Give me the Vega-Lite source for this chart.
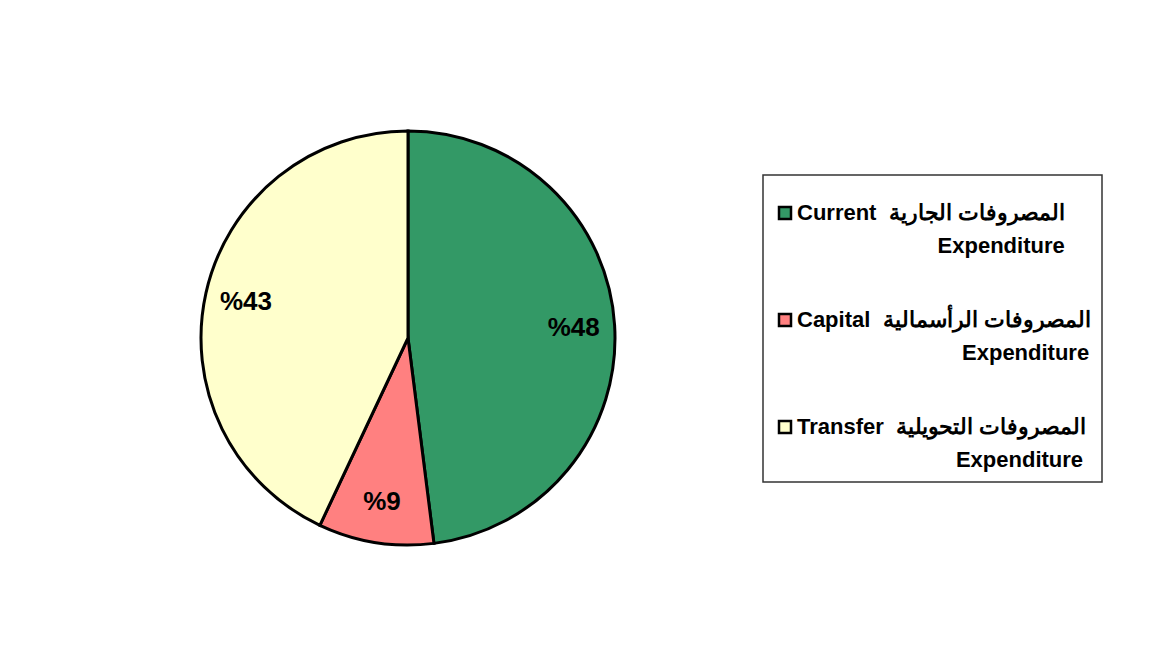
{
  "$schema": "https://vega.github.io/schema/vega-lite/v6.json",
  "width": 800,
  "height": 670,
  "padding": {"left": 8, "top": 3, "right": 0, "bottom": 0},
  "background": "white",
  "config": {"view": {"stroke": null}},
  "data": {
    "values": [
      {"category": "Current Expenditure", "share": 48, "label": "%48", "rank": 1},
      {"category": "Capital Expenditure", "share": 9, "label": "%9", "rank": 2},
      {"category": "Transfer Expenditure", "share": 43, "label": "%43", "rank": 3}
    ]
  },
  "encoding": {
    "theta": {"field": "share", "type": "quantitative", "stack": true},
    "order": {"field": "rank", "type": "ordinal"}
  },
  "layer": [
    {
      "mark": {"type": "arc", "outerRadius": 207, "stroke": "black", "strokeWidth": 3},
      "encoding": {
        "color": {
          "field": "category",
          "type": "nominal",
          "scale": {
            "domain": ["Current Expenditure", "Capital Expenditure", "Transfer Expenditure"],
            "range": ["#339966", "#FF8080", "#FFFFCC"]
          },
          "legend": {
            "title": "\u00a0",
            "titleFontSize": 12,
            "titlePadding": 4,
            "orient": "none",
            "legendX": 755,
            "legendY": 172,
            "padding": 11,
            "strokeColor": "#333333",
            "fillColor": "white",
            "symbolType": "square",
            "symbolSize": 144,
            "symbolStrokeColor": "black",
            "symbolStrokeWidth": 2.5,
            "labelFont": "Liberation Sans",
            "labelFontSize": 22,
            "labelFontWeight": "bold",
            "labelColor": "black",
            "labelLimit": 400,
            "labelOffset": 1,
            "rowPadding": 52,
            "encode": {
              "legend": {"update": {"strokeWidth": {"value": 1.5}}},
              "labels": {"update": {"lineHeight": {"value": 33}}}
            },
            "labelExpr": "datum.label == 'Current Expenditure' ? ['Current\u00a0 المصروفات الجارية', '\u200b\u00a0\u00a0\u00a0\u00a0\u00a0\u00a0\u00a0\u00a0\u00a0\u00a0\u00a0\u00a0\u00a0\u00a0\u00a0\u00a0\u00a0\u00a0\u00a0\u00a0\u00a0\u00a0\u00a0Expenditure'] : datum.label == 'Capital Expenditure' ? ['Capital\u00a0 المصروفات الرأسمالية', '\u200b\u00a0\u00a0\u00a0\u00a0\u00a0\u00a0\u00a0\u00a0\u00a0\u00a0\u00a0\u00a0\u00a0\u00a0\u00a0\u00a0\u00a0\u00a0\u00a0\u00a0\u00a0\u00a0\u00a0\u00a0\u00a0\u00a0\u00a0Expenditure'] : ['Transfer\u00a0 المصروفات التحويلية', '\u200b\u00a0\u00a0\u00a0\u00a0\u00a0\u00a0\u00a0\u00a0\u00a0\u00a0\u00a0\u00a0\u00a0\u00a0\u00a0\u00a0\u00a0\u00a0\u00a0\u00a0\u00a0\u00a0\u00a0\u00a0\u00a0\u00a0Expenditure']"
          }
        }
      }
    },
    {
      "mark": {"type": "text", "radius": 166, "font": "Liberation Sans", "fontSize": 26, "fontWeight": "bold", "color": "black"},
      "encoding": {
        "text": {"field": "label", "type": "nominal"}
      }
    }
  ]
}
